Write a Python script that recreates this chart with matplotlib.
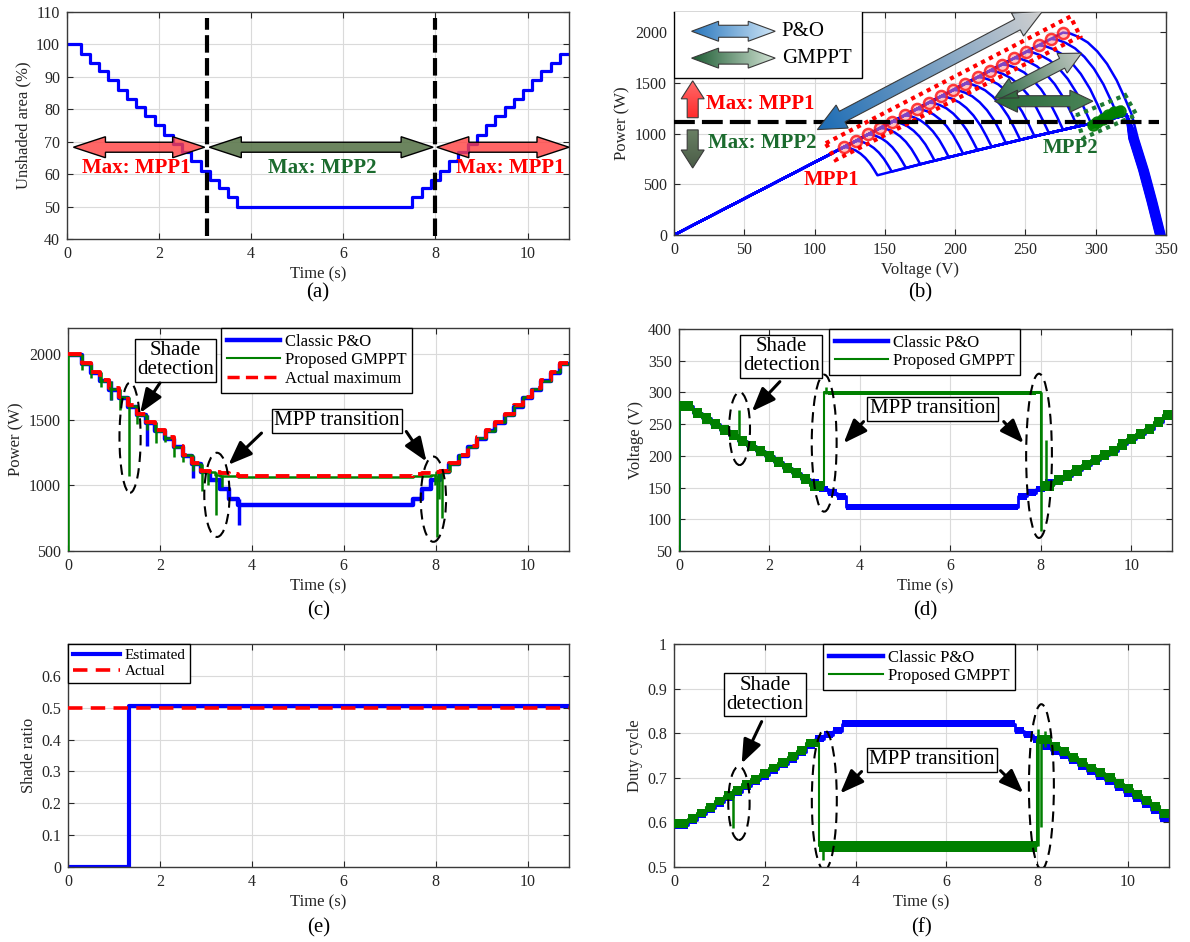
"""
plot.py - six-panel GMPPT vs classic P&O comparison figure (shading test).
Values read off the published figure; ripple bands drawn as fixed widths.
"""
import numpy as np
import matplotlib
matplotlib.use("Agg")
import matplotlib.pyplot as plt
from matplotlib.patches import Polygon, Ellipse, Rectangle
from matplotlib.lines import Line2D
from matplotlib.colors import to_rgb

plt.rcParams["font.family"] = ["Liberation Serif", "DejaVu Serif"]

BLUE = "#0000FF"
GREEN = "#008000"
RED = "#FF0000"
DKGREEN = "#1B6B2E"
TXT = "#262626"

# ---------------- shading profile (shared time base, s) ----------------
STEP_T = [0, 0.3, 0.5, 0.7, 0.9, 1.1, 1.3, 1.5, 1.7, 1.9, 2.1, 2.3, 2.5, 2.7, 2.9,
          3.1, 3.3, 3.5, 3.7, 7.5, 7.7, 7.9, 8.1, 8.3, 8.5, 8.7, 8.9, 9.1, 9.3, 9.5,
          9.7, 9.9, 10.1, 10.3, 10.5, 10.7]
# GMPPT switches MPP a little later / earlier than the profile steps
STEP_T_GM = [0, 0.3, 0.5, 0.7, 0.9, 1.1, 1.3, 1.5, 1.7, 1.9, 2.1, 2.3, 2.5, 2.7, 2.9,
             3.2, 3.3, 3.5, 3.7, 7.5, 7.7, 7.9, 8.0, 8.3, 8.5, 8.7, 8.9, 9.1, 9.3, 9.5,
             9.7, 9.9, 10.1, 10.3, 10.5, 10.7]
T_END = 10.9
UNSHADED = [100, 97.2, 94.4, 91.7, 88.9, 86.1, 83.3, 80.6, 77.8, 75.0, 72.2, 69.4,
            66.7, 63.9, 61.1, 58.3, 55.6, 52.8, 50.0, 52.8, 55.6, 58.3, 61.1, 63.9,
            66.7, 69.4, 72.2, 75.0, 77.8, 80.6, 83.3, 86.1, 88.9, 91.7, 94.4, 97.2]
BOUNDARY_T = [3.05, 8.0]

# ---------------- (b) P-V curves ----------------
MPP1_V = [120.7, 129.4, 138.0, 146.7, 155.4, 164.0, 172.7, 181.4, 190.0, 198.7,
          207.3, 216.0, 224.7, 233.3, 242.0, 250.7, 259.3, 268.0, 276.7]
MPP1_P = [866, 928, 992, 1055, 1118, 1180, 1243, 1306, 1368, 1431,
          1494, 1557, 1620, 1682, 1745, 1808, 1871, 1934, 1997]
KNEE_W = [24, 25.5, 27, 28.5, 30, 31.5, 33, 34.5, 36, 37.5,
          39, 40.5, 42, 43.5, 45, 46, 47, 48, 49]
KNEE_F = [0, 0.1, 0.22, 0.36, 0.5, 0.64, 0.78, 0.9, 1.0]
KNEE_G = [0, 0.01, 0.05, 0.12, 0.23, 0.38, 0.58, 0.8, 1.0]
LOWER_V = [145, 180, 220, 260, 290, 305, 315, 322]
LOWER_P = [590, 715, 850, 985, 1080, 1125, 1160, 1185]
VOC = [343, 343.3, 343.6, 344, 344.3, 344.6, 345, 345.3, 345.6, 346,
       346.3, 346.6, 347, 347.3, 347.6, 348, 348.3, 348.6, 349]
TAIL_DV = [-19, -12, -6, 0]
TAIL_P = [950, 640, 330, 0]
MPP2_V = [298, 301, 305, 309, 313, 317]
MPP2_P = [1090, 1110, 1140, 1180, 1215, 1228]
P_SPLIT = 1114

# ---------------- (c) power ----------------
P_ACTUAL = [2000, 1931, 1868, 1804, 1740, 1677, 1610, 1544, 1486, 1422, 1366, 1300,
            1235, 1170, 1111, 1105, 1095, 1085, 1072, 1085, 1095, 1105, 1111, 1170,
            1235, 1300, 1366, 1422, 1486, 1544, 1610, 1677, 1740, 1804, 1868, 1931]
P_PO = [1992, 1922, 1859, 1795, 1731, 1668, 1601, 1535, 1477, 1413, 1357, 1291,
        1226, 1161, 1100, 1040, 969, 900, 849, 900, 969, 1040, 1100, 1161,
        1226, 1291, 1357, 1413, 1477, 1535, 1601, 1668, 1731, 1795, 1859, 1922]
P_GM = [1994, 1925, 1862, 1798, 1734, 1671, 1604, 1538, 1480, 1416, 1360, 1294,
        1229, 1164, 1104, 1082, 1075, 1068, 1065, 1068, 1075, 1080, 1104, 1164,
        1229, 1294, 1360, 1416, 1480, 1538, 1604, 1671, 1734, 1798, 1862, 1925]
SPK_C_GM_T = [0.01, 0.31, 0.51, 0.71, 0.93, 1.13, 1.33, 1.51, 1.71, 1.92, 2.11, 2.31,
              2.51, 2.71, 2.92, 3.05, 3.22, 3.36, 7.98, 8.02, 8.08, 8.14, 8.31, 8.51]
SPK_C_GM_LO = [500, 1880, 1820, 1750, 1650, 1577, 1068, 1470, 1420, 1320, 1330, 1218,
               1180, 1110, 955, 1000, 772, 990, 1000, 607, 900, 755, 1100, 1170]
SPK_C_GM_HI = [1994, 1994, 1925, 1862, 1798, 1734, 1671, 1604, 1538, 1480, 1416, 1360,
               1294, 1229, 1164, 1104, 1104, 1082, 1080, 1080, 1104, 1104, 1164, 1229]
SPK_C_PO_T = [0.93, 1.72, 2.71, 3.72]
SPK_C_PO_LO = [1650, 1300, 1060, 698]
SPK_C_PO_HI = [1795, 1535, 1226, 900]

# ---------------- (d) voltage ----------------
V_PO = [278, 268, 259, 250, 241, 233, 224, 216, 207, 199, 190, 181, 173, 164, 155,
        148, 142, 136, 119, 136, 142, 148, 155, 162, 169, 177, 185, 193, 201, 208,
        218, 226, 235, 243, 253, 264]
V_GM = [278, 268, 259, 250, 241, 233, 224, 216, 207, 199, 190, 181, 173, 164, 153,
        300, 299, 299, 299, 299, 299, 300, 153, 162, 169, 177, 185, 193, 201, 208,
        218, 226, 235, 243, 253, 264]
RIP_V_PO = [8, 8, 8, 8, 8, 8, 8, 8, 8, 8, 8, 8, 8, 8, 8, 5, 5, 5, 5, 5, 5, 5,
            8, 8, 8, 8, 8, 8, 8, 8, 8, 8, 8, 8, 8, 8]
RIP_V_GM = [8, 8, 8, 8, 8, 8, 8, 8, 8, 8, 8, 8, 8, 8, 8, 2.5, 2.5, 2.5, 2.5, 2.5, 2.5, 2.5,
            8, 8, 8, 8, 8, 8, 8, 8, 8, 8, 8, 8, 8, 8]
SPK_D_GM_T = [0.01, 1.32, 3.26, 8.01, 8.12]
SPK_D_GM_LO = [50, 232, 298, 82, 150]
SPK_D_GM_HI = [278, 272, 309, 300, 225]
SPK_D_PO_T = [0.01]
SPK_D_PO_LO = [50]
SPK_D_PO_HI = [278]

# ---------------- (e) shade ratio ----------------
EST_T = [0, 1.33, T_END]
EST_R = [0, 0.505, 0.505]
R_ACTUAL = 0.5

# ---------------- (f) duty cycle ----------------
D_PO = [0.595, 0.606, 0.619, 0.632, 0.645, 0.657, 0.669, 0.682, 0.694, 0.706, 0.719,
        0.731, 0.744, 0.758, 0.775, 0.788, 0.797, 0.806, 0.821, 0.806, 0.797, 0.786,
        0.772, 0.762, 0.752, 0.740, 0.728, 0.716, 0.705, 0.694, 0.680, 0.668, 0.655,
        0.643, 0.628, 0.610]
D_GM = [0.597, 0.608, 0.621, 0.634, 0.648, 0.660, 0.672, 0.685, 0.697, 0.709, 0.722,
        0.734, 0.747, 0.761, 0.778, 0.546, 0.546, 0.546, 0.546, 0.546, 0.546, 0.546,
        0.785, 0.770, 0.758, 0.746, 0.734, 0.722, 0.711, 0.700, 0.687, 0.675, 0.662,
        0.650, 0.636, 0.620]
RIP_D_PO = [0.01, 0.01, 0.01, 0.01, 0.01, 0.01, 0.01, 0.01, 0.01, 0.01, 0.01, 0.01,
            0.01, 0.01, 0.01, 0.008, 0.008, 0.008, 0.008, 0.008, 0.008, 0.008,
            0.01, 0.01, 0.01, 0.01, 0.01, 0.01, 0.01, 0.01, 0.01, 0.01, 0.01, 0.01, 0.01, 0.01]
RIP_D_GM = [0.01, 0.01, 0.01, 0.01, 0.01, 0.01, 0.01, 0.01, 0.01, 0.01, 0.01, 0.01,
            0.01, 0.01, 0.01, 0.013, 0.013, 0.013, 0.013, 0.013, 0.013, 0.013,
            0.01, 0.01, 0.01, 0.01, 0.01, 0.01, 0.01, 0.01, 0.01, 0.01, 0.01, 0.01, 0.01, 0.01]
SPK_F_GM_T = [1.31, 3.27, 8.02, 8.09, 8.16]
SPK_F_GM_LO = [0.587, 0.515, 0.546, 0.59, 0.77]
SPK_F_GM_HI = [0.672, 0.546, 0.81, 0.785, 0.805]


FIG_W, FIG_H = 1190, 942
fig = plt.figure(figsize=(FIG_W / 100, FIG_H / 100), dpi=100)


def px_axes(left, right, top, bottom):
    return fig.add_axes([left / FIG_W, 1 - bottom / FIG_H,
                         (right - left) / FIG_W, (bottom - top) / FIG_H])


def style(ax, xlim, ylim, xticks, yticks, xlabel, ylabel, ytl=None):
    ax.set_xlim(xlim)
    ax.set_ylim(ylim)
    ax.set_xticks(xticks)
    ax.set_yticks(yticks)
    if ytl is not None:
        ax.set_yticklabels(ytl)
    ax.grid(True, color="#DADADA", lw=0.8)
    ax.set_axisbelow(True)
    ax.tick_params(direction="in", top=True, right=True, length=4, width=0.8,
                   labelsize=11.5, colors=TXT, pad=5)
    for s in ax.spines.values():
        s.set_color("#3A3A3A")
        s.set_linewidth(1.0)
    ax.set_xlabel(xlabel, fontsize=12, color=TXT, labelpad=3)
    ax.set_ylabel(ylabel, fontsize=12, color=TXT, labelpad=3)


def steps(t, v):
    return list(t) + [T_END], list(v) + [v[-1]]


def band(ax, t, v, r, color, lw, z):
    x, y = steps(t, v)
    _, rr = steps(t, r)
    y = np.array(y, float)
    rr = np.array(rr, float)
    ax.fill_between(x, y - rr, y + rr, step="post", color=color, lw=0, zorder=z)
    ax.step(x, y, where="post", color=color, lw=lw, zorder=z)


def arrow_poly(ax, p0, p1, hw, hh, hl, double=True):
    # widths in pixels, ends in data coords
    a = ax.transData.transform(p0)
    b = ax.transData.transform(p1)
    d = b - a
    u = d / np.hypot(*d)
    n = np.array([-u[1], u[0]])
    pts = []
    if double:
        pts += [a, a + u * hl + n * hh, a + u * hl + n * hw]
    else:
        pts += [a + n * hw]
    pts += [b - u * hl + n * hw, b - u * hl + n * hh, b,
            b - u * hl - n * hh, b - u * hl - n * hw]
    if double:
        pts += [a + u * hl - n * hw, a + u * hl - n * hh]
    else:
        pts += [a - n * hw]
    return ax.transData.inverted().transform(np.array(pts))


def grad_arrow(ax, p0, p1, c0, c1, hw, hh, hl, double=True, z=7):
    verts = arrow_poly(ax, p0, p1, hw, hh, hl, double)
    poly = Polygon(verts, closed=True, fc="none", ec="#3A3A3A", lw=0.8, zorder=z + 0.1)
    ax.add_patch(poly)
    x0, y0 = verts.min(0)
    x1, y1 = verts.max(0)
    X, Y = np.meshgrid(np.linspace(x0, x1, 80), np.linspace(y0, y1, 80))
    pix = ax.transData.transform(np.column_stack([X.ravel(), Y.ravel()]))
    a = ax.transData.transform(p0)
    b = ax.transData.transform(p1)
    s = np.clip(((pix - a) @ (b - a)) / np.dot(b - a, b - a), 0, 1).reshape(X.shape)
    img = (1 - s)[..., None] * np.array(to_rgb(c0)) + s[..., None] * np.array(to_rgb(c1))
    im = ax.imshow(img, extent=(x0, x1, y0, y1), origin="lower", aspect="auto",
                   interpolation="bilinear", zorder=z)
    im.set_clip_path(poly)


def note(ax, xy, text):
    ax.text(xy[0], xy[1], text, ha="center", va="center", fontsize=15, color="black",
            linespacing=1.0, zorder=9,
            bbox=dict(boxstyle="square,pad=0.12", fc="white", ec="black", lw=1.0))


def pointer(ax, tail, tip):
    ax.annotate("", xy=tip, xytext=tail, zorder=9,
                arrowprops=dict(arrowstyle="-|>,head_length=0.9,head_width=0.35",
                                lw=2.2, color="black", mutation_scale=16,
                                shrinkA=0, shrinkB=0))


def ring(ax, c, w, h):
    ax.add_patch(Ellipse(c, w, h, fill=False, ec="black", lw=1.5,
                         ls=(0, (5, 3)), zorder=8))


ax_a = px_axes(67, 569, 12, 239)
ax_b = px_axes(674, 1166, 12, 235)
ax_c = px_axes(68, 569, 328, 551)
ax_d = px_axes(679, 1172, 329, 551)
ax_e = px_axes(68, 569, 644, 867)
ax_f = px_axes(674, 1169, 644, 867)

TT = [0, 2, 4, 6, 8, 10]
style(ax_a, (0, T_END), (40, 110), TT, range(40, 111, 10), "Time (s)", "Unshaded area (%)")
style(ax_b, (0, 350), (0, 2200), range(0, 351, 50), range(0, 2001, 500), "Voltage (V)", "Power (W)")
style(ax_c, (0, T_END), (500, 2200), TT, range(500, 2001, 500), "Time (s)", "Power (W)")
style(ax_d, (0, T_END), (50, 400), TT, range(50, 401, 50), "Time (s)", "Voltage (V)")
style(ax_e, (0, T_END), (0, 0.7), TT, [0, 0.1, 0.2, 0.3, 0.4, 0.5, 0.6], "Time (s)", "Shade ratio",
      ["0", "0.1", "0.2", "0.3", "0.4", "0.5", "0.6"])
style(ax_f, (0, T_END), (0.5, 1.0), TT, [0.5, 0.6, 0.7, 0.8, 0.9, 1.0], "Time (s)", "Duty cycle",
      ["0.5", "0.6", "0.7", "0.8", "0.9", "1"])

# ---------------- (a) ----------------
x, y = steps(STEP_T, UNSHADED)
ax_a.step(x, y, where="post", color=BLUE, lw=2.3, zorder=2)
for tb in BOUNDARY_T:
    ax_a.plot([tb, tb], [41, 108], color="black", lw=3, dashes=(4.2, 1.3), zorder=5)
for t0, t1, fc in [(0.14, 2.99, (1, 0.25, 0.25, 0.8)),
                   (3.09, 7.95, (0.36, 0.47, 0.3, 0.9)),
                   (8.03, 10.9, (1, 0.25, 0.25, 0.8))]:
    ax_a.add_patch(Polygon(arrow_poly(ax_a, (t0, 68.3), (t1, 68.3), 5, 10.5, 32),
                           closed=True, fc=fc, ec="black", lw=1.0, zorder=4, clip_on=False))
for tx, s, c in [(1.5, "Max: MPP1", RED), (5.55, "Max: MPP2", DKGREEN), (9.62, "Max: MPP1", RED)]:
    ax_a.text(tx, 61.8, s, color=c, fontsize=15, fontweight="bold", ha="center", va="center", zorder=6)

# ---------------- (b) ----------------
for k in range(len(MPP1_V)):
    vp, pp, w = MPP1_V[k], MPP1_P[k], KNEE_W[k]
    vl = vp + w
    pl = np.interp(vl, LOWER_V, LOWER_P)
    kv = vp + w * np.array(KNEE_F)
    kp = pp - (pp - pl) * np.array(KNEE_G)
    lv = [v for v in LOWER_V if v > vl]
    lp = [p for v, p in zip(LOWER_V, LOWER_P) if v > vl]
    tv = VOC[k] + np.array(TAIL_DV)
    V = np.concatenate([[0], MPP1_V[:k], kv, lv, tv])
    P = np.concatenate([[0], MPP1_P[:k], kp, lp, TAIL_P])
    ax_b.plot(V, P, color=BLUE, lw=1.8, zorder=2)
ax_b.plot(MPP1_V, MPP1_P, "o", ms=8, mfc=(1, 0.55, 0.55, 0.5), mec=(1, 0.1, 0.1, 0.85),
          mew=1.8, zorder=3)
ax_b.plot(MPP2_V, MPP2_P, "o-", color=GREEN, lw=6, ms=8, alpha=0.9, zorder=3)
ax_b.add_patch(Polygon([(108, 905), (282, 2155), (289, 1960), (115, 740)], closed=True,
                       fill=False, ec=RED, lw=3, ls=(0, (1, 1.1)), zorder=4))
ax_b.add_patch(Polygon([(286, 1180), (321, 1380), (329, 1185), (291, 955)], closed=True,
                       fill=False, ec="#1E7A32", lw=3, ls=(0, (1, 1.1)), zorder=4))
ax_b.plot([0, 345], [P_SPLIT, P_SPLIT], color="black", lw=3, dashes=(5, 1.7), zorder=5)
ax_b.add_patch(Rectangle((0, 1547), 134, 700, fc="white", ec="black", lw=1.0, zorder=6))
grad_arrow(ax_b, (12.5, 2010), (72, 2010), "#2A77BD", "#CFE6F7", 6, 10, 27)
grad_arrow(ax_b, (12.5, 1745), (72, 1745), "#1D5C33", "#D4E4D6", 6, 10, 27)
ax_b.text(76.6, 2010, "P&O", fontsize=15, ha="left", va="center", zorder=8)
ax_b.text(76.6, 1745, "GMPPT", fontsize=15, ha="left", va="center", zorder=8)
grad_arrow(ax_b, (102, 1040), (262, 2205), "#1C6CB5", "#D0D0D0", 6, 13, 28)
grad_arrow(ax_b, (228, 1349), (290, 1794), "#2E6B45", "#C5CAC6", 5.5, 11, 22)
grad_arrow(ax_b, (228, 1320), (298, 1320), "#2B6A3A", "#4A8458", 5.5, 11, 23)
grad_arrow(ax_b, (13.3, 1157), (13.3, 1521), "#FF2A2A", "#FF6A6A", 5.5, 11.5, 18, double=False)
grad_arrow(ax_b, (13.3, 1037), (13.3, 661), "#6A8064", "#4A5C47", 5.5, 11.5, 18, double=False)
ax_b.text(22.5, 1290, "Max: MPP1", color=RED, fontsize=15, fontweight="bold", ha="left", va="center", zorder=8)
ax_b.text(24, 909, "Max: MPP2", color=DKGREEN, fontsize=15, fontweight="bold", ha="left", va="center", zorder=8)
ax_b.text(112, 545, "MPP1", color=RED, fontsize=15, fontweight="bold", ha="center", va="center", zorder=8)
ax_b.text(282, 860, "MPP2", color=DKGREEN, fontsize=15, fontweight="bold", ha="center", va="center", zorder=8)

# ---------------- (c) ----------------
x, y = steps(STEP_T, P_PO)
ax_c.step(x, y, where="post", color=BLUE, lw=3.2, zorder=2)
ax_c.vlines(SPK_C_PO_T, SPK_C_PO_LO, SPK_C_PO_HI, color=BLUE, lw=2.5, zorder=2)
x, y = steps(STEP_T_GM, P_GM)
ax_c.step(x, y, where="post", color=GREEN, lw=1.8, zorder=3)
ax_c.vlines(SPK_C_GM_T, SPK_C_GM_LO, SPK_C_GM_HI, color=GREEN, lw=1.8, zorder=3)
x, y = steps(STEP_T, P_ACTUAL)
ax_c.step(x, y, where="post", color=RED, lw=2.8, dashes=(3.5, 1.8), zorder=4)
ax_c.legend([Line2D([], [], color=BLUE, lw=3.2), Line2D([], [], color=GREEN, lw=1.5),
             Line2D([], [], color=RED, lw=2.5, dashes=(3.5, 1.8))],
            ["Classic P&O", "Proposed GMPPT", "Actual maximum"], loc="upper left",
            bbox_to_anchor=(0.305, 1.0), fontsize=12, handlelength=3.2, handletextpad=0.3,
            labelspacing=0.15, borderpad=0.35, borderaxespad=0, fancybox=False,
            edgecolor="black", framealpha=1).get_frame().set_linewidth(1.0)
note(ax_c, (2.34, 1955), "Shade\ndetection")
pointer(ax_c, (2.0, 1781), (1.57, 1552))
note(ax_c, (5.85, 1493), "MPP transition")
pointer(ax_c, (4.21, 1399), (3.49, 1157))
pointer(ax_c, (7.36, 1411), (7.8, 1182))
ring(ax_c, (1.35, 1364), 0.46, 840)
ring(ax_c, (3.24, 928), 0.55, 642)
ring(ax_c, (7.95, 895), 0.55, 650)

# ---------------- (d) ----------------
band(ax_d, STEP_T, V_PO, RIP_V_PO, BLUE, 2.0, 2)
ax_d.vlines(SPK_D_PO_T, SPK_D_PO_LO, SPK_D_PO_HI, color=BLUE, lw=2.0, zorder=2)
band(ax_d, STEP_T_GM, V_GM, RIP_V_GM, GREEN, 1.5, 3)
ax_d.vlines(SPK_D_GM_T, SPK_D_GM_LO, SPK_D_GM_HI, color=GREEN, lw=1.8, zorder=3)
ax_d.legend([Line2D([], [], color=BLUE, lw=3.2), Line2D([], [], color=GREEN, lw=1.5)],
            ["Classic P&O", "Proposed GMPPT"], loc="upper left",
            bbox_to_anchor=(0.304, 1.0), fontsize=12, handlelength=3.2, handletextpad=0.3,
            labelspacing=0.15, borderpad=0.35, borderaxespad=0, fancybox=False,
            edgecolor="black", framealpha=1).get_frame().set_linewidth(1.0)
note(ax_d, (2.26, 357), "Shade\ndetection")
pointer(ax_d, (2.23, 317), (1.61, 270))
note(ax_d, (5.6, 274), "MPP transition")
pointer(ax_d, (4.08, 254), (3.64, 220))
pointer(ax_d, (7.18, 254), (7.62, 220))
ring(ax_d, (1.34, 243), 0.46, 115)
ring(ax_d, (3.21, 220), 0.55, 216)
ring(ax_d, (7.96, 200), 0.57, 259)

# ---------------- (e) ----------------
ax_e.step(EST_T, EST_R, where="post", color=BLUE, lw=3.0, zorder=2)
ax_e.plot([0, T_END], [R_ACTUAL, R_ACTUAL], color=RED, lw=2.6, dashes=(4, 2.3), zorder=3)
ax_e.legend([Line2D([], [], color=BLUE, lw=3.0), Line2D([], [], color=RED, lw=2.6, dashes=(4, 2.3))],
            ["Estimated", "Actual"], loc="upper left", fontsize=11, handlelength=3.1,
            handletextpad=0.3, labelspacing=0.15, borderpad=0.3, borderaxespad=0,
            fancybox=False, edgecolor="black", framealpha=1).get_frame().set_linewidth(1.0)

# ---------------- (f) ----------------
band(ax_f, STEP_T, D_PO, RIP_D_PO, BLUE, 2.0, 2)
band(ax_f, STEP_T_GM, D_GM, RIP_D_GM, GREEN, 1.5, 3)
ax_f.vlines(SPK_F_GM_T, SPK_F_GM_LO, SPK_F_GM_HI, color=GREEN, lw=1.8, zorder=3)
ax_f.legend([Line2D([], [], color=BLUE, lw=3.2), Line2D([], [], color=GREEN, lw=1.5)],
            ["Classic P&O", "Proposed GMPPT"], loc="upper left",
            bbox_to_anchor=(0.302, 1.0), fontsize=12, handlelength=3.2, handletextpad=0.3,
            labelspacing=0.15, borderpad=0.35, borderaxespad=0, fancybox=False,
            edgecolor="black", framealpha=1).get_frame().set_linewidth(1.0)
note(ax_f, (2.0, 0.886), "Shade\ndetection")
pointer(ax_f, (1.93, 0.826), (1.49, 0.732))
note(ax_f, (5.68, 0.741), "MPP transition")
pointer(ax_f, (4.13, 0.714), (3.66, 0.665))
pointer(ax_f, (7.19, 0.716), (7.69, 0.666))
ring(ax_f, (1.43, 0.643), 0.47, 0.165)
ring(ax_f, (3.31, 0.65), 0.55, 0.314)
ring(ax_f, (8.09, 0.68), 0.55, 0.37)

# keep limits fixed after images / patches
ax_b.set_xlim(0, 350)
ax_b.set_ylim(0, 2200)

for ax, lab, ypx in [(ax_a, "(a)", 293), (ax_b, "(b)", 293), (ax_c, "(c)", 611),
                     (ax_d, "(d)", 611), (ax_e, "(e)", 928), (ax_f, "(f)", 928)]:
    bb = ax.get_position()
    fig.text(bb.x0 + bb.width / 2, 1 - ypx / FIG_H, lab, ha="center", va="center",
             fontsize=15, color="black")

fig.savefig("out.png", dpi=100)
